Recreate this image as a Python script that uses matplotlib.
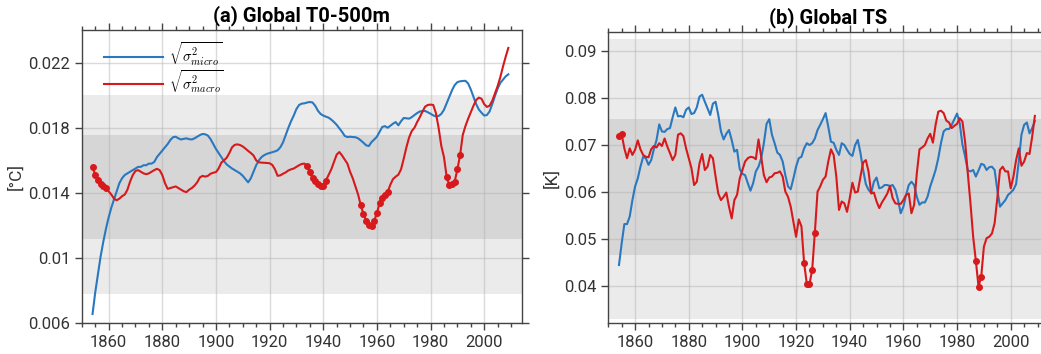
import matplotlib
matplotlib.use("Agg")
import matplotlib.pyplot as plt
import numpy as np
from matplotlib.ticker import MultipleLocator, FuncFormatter

plt.rcParams['font.family'] = ['Roboto', 'DejaVu Sans']
plt.rcParams['mathtext.fontset'] = 'cm'

#-------------------------------------------------
# data (annual, 1854-2009)
#-------------------------------------------------
years = np.arange(1854, 2010)

# (a) Global T0-500m  [degC]
t500_micro = [0.00657, 0.0079, 0.0090, 0.0101, 0.0110, 0.0118,
              0.0125, 0.0131, 0.0136, 0.0141, 0.0146, 0.0149, 0.0151, 0.0152, 0.0153, 0.0154,
              0.0155, 0.0156, 0.0156, 0.0157, 0.0157, 0.0158, 0.0158, 0.0159, 0.0162, 0.0164,
              0.0166, 0.0168, 0.0170, 0.01725, 0.01742, 0.01745, 0.01735, 0.01728, 0.01732, 0.01735,
              0.01730, 0.01728, 0.01735, 0.01745, 0.01755, 0.01762, 0.01760, 0.01752, 0.01730, 0.01700,
              0.01670, 0.01645, 0.01620, 0.01595, 0.01575, 0.01562, 0.01550, 0.01540, 0.01530, 0.01520,
              0.01505, 0.01485, 0.01465, 0.01490, 0.01530, 0.01570, 0.01600, 0.01620, 0.01632, 0.01640,
              0.01645, 0.01650, 0.01655, 0.01662, 0.01680, 0.01710, 0.01755, 0.01800, 0.01840, 0.01875,
              0.01915, 0.01940, 0.01948, 0.01950, 0.01955, 0.01958, 0.01955, 0.01935, 0.01905, 0.01885,
              0.01875, 0.01868, 0.01862, 0.01850, 0.01835, 0.01818, 0.01797, 0.01775, 0.01750, 0.01743,
              0.01745, 0.01743, 0.01742, 0.01735, 0.01722, 0.01708, 0.01692, 0.01688, 0.01712, 0.01728,
              0.01745, 0.01775, 0.01805, 0.01810, 0.01800, 0.01812, 0.01825, 0.01835, 0.01815, 0.01840,
              0.01860, 0.01858, 0.01856, 0.01865, 0.01878, 0.01890, 0.01900, 0.01902, 0.01903, 0.01895,
              0.01886, 0.01876, 0.01870, 0.01872, 0.01885, 0.01910, 0.01950, 0.01990, 0.02030, 0.02062,
              0.02080, 0.02085, 0.02087, 0.02088, 0.02072, 0.02035, 0.01990, 0.01945, 0.01912, 0.01892,
              0.01875, 0.01878, 0.01900, 0.01945, 0.01995, 0.02040, 0.02075, 0.02095, 0.02115, 0.02128]

t500_macro = [0.0156, 0.0151, 0.0148, 0.01455, 0.0144, 0.0143,
              0.0141, 0.0139, 0.01365, 0.01355, 0.01365, 0.0138, 0.0139, 0.0142, 0.0147, 0.0151,
              0.01535, 0.0154, 0.0153, 0.0152, 0.01515, 0.0152, 0.0153, 0.0154, 0.01548, 0.0154,
              0.0151, 0.0146, 0.01425, 0.0143, 0.01435, 0.0144, 0.0143, 0.0142, 0.0141, 0.01405,
              0.01420, 0.01430, 0.01445, 0.01465, 0.01495, 0.01505, 0.01500, 0.01505, 0.01518, 0.01524,
              0.01528, 0.01550, 0.01586, 0.01600, 0.01616, 0.01645, 0.01680, 0.01695, 0.01698, 0.01694,
              0.01685, 0.01672, 0.01658, 0.01645, 0.01630, 0.01600, 0.01588, 0.01586, 0.01585, 0.01584,
              0.01582, 0.01572, 0.01545, 0.01505, 0.01508, 0.01518, 0.01526, 0.01538, 0.01545, 0.01550,
              0.01560, 0.01570, 0.01578, 0.01580, 0.01565, 0.01528, 0.01491, 0.01476, 0.01456, 0.01442,
              0.01442, 0.01476, 0.01510, 0.01545, 0.01590, 0.01635, 0.01651, 0.01630, 0.01605, 0.01580,
              0.01530, 0.01490, 0.01440, 0.01390, 0.01323, 0.01271, 0.01230, 0.01205, 0.01196, 0.01230,
              0.01275, 0.01340, 0.01372, 0.01390, 0.01405, 0.01450, 0.01485, 0.01500, 0.01512, 0.01545,
              0.01610, 0.01680, 0.01740, 0.01780, 0.01800, 0.01835, 0.01865, 0.01900, 0.01930, 0.01940,
              0.01942, 0.01940, 0.01890, 0.01800, 0.01690, 0.01620, 0.01500, 0.01446, 0.01455, 0.01470,
              0.01544, 0.01630, 0.01755, 0.01810, 0.01855, 0.01895, 0.01935, 0.01970, 0.01985, 0.01978,
              0.01945, 0.01928, 0.01935, 0.01965, 0.02010, 0.02055, 0.02110, 0.02175, 0.02235, 0.02290]

t500_sig_years = list(range(1854, 1860)) + list(range(1934, 1942)) + \
                 list(range(1954, 1965)) + list(range(1986, 1992))
t500_band_outer = (0.00778, 0.0200)
t500_band_inner = (0.01115, 0.01753)

# (b) Global TS  [K]
ts_micro = [0.0444, 0.0490, 0.0531, 0.0531, 0.0547, 0.0582,
            0.0611, 0.0628, 0.0653, 0.0674, 0.0671, 0.0657, 0.0667, 0.0690, 0.0710, 0.0743,
            0.0728, 0.0727, 0.0733, 0.0735, 0.0758, 0.0779, 0.0760, 0.0761, 0.0758, 0.0774,
            0.0779, 0.0765, 0.0767, 0.0779, 0.0802, 0.0806, 0.0791, 0.0777, 0.0763, 0.0787,
            0.0791, 0.0763, 0.0728, 0.0711, 0.0723, 0.0731, 0.0710, 0.0685, 0.0689, 0.0648,
            0.0638, 0.0635, 0.0618, 0.0602, 0.0618, 0.0643, 0.0653, 0.0671, 0.0703, 0.0744,
            0.0754, 0.0721, 0.0703, 0.0683, 0.0678, 0.0664, 0.0635, 0.0611, 0.0605, 0.0628,
            0.0653, 0.0671, 0.0674, 0.0692, 0.0703, 0.0699, 0.0703, 0.0713, 0.0731, 0.0742,
            0.0754, 0.0767, 0.0738, 0.0706, 0.0704, 0.0689, 0.0678, 0.0703, 0.0699, 0.0689,
            0.0680, 0.0676, 0.0699, 0.0710, 0.0682, 0.0646, 0.0616, 0.0604, 0.0597, 0.0621,
            0.0630, 0.0607, 0.0609, 0.0614, 0.0614, 0.0612, 0.0614, 0.0604, 0.0582, 0.0554,
            0.0568, 0.0593, 0.0614, 0.0621, 0.0614, 0.0589, 0.0572, 0.0577, 0.0577, 0.0589,
            0.0611, 0.0628, 0.0646, 0.0671, 0.0703, 0.0728, 0.0733, 0.0733, 0.0742, 0.0754,
            0.0766, 0.0745, 0.0700, 0.0675, 0.0645, 0.0643, 0.0646, 0.0632, 0.0645, 0.0659,
            0.0657, 0.0646, 0.0652, 0.0653, 0.0646, 0.0604, 0.0568, 0.0575, 0.0582, 0.0593,
            0.0598, 0.0604, 0.0616, 0.0664, 0.0721, 0.0742, 0.0747, 0.0724, 0.0735, 0.0750]

ts_macro = [0.0718, 0.0722, 0.0692, 0.0671, 0.0692, 0.0678,
            0.0689, 0.0709, 0.0690, 0.0678, 0.0674, 0.0673, 0.0690, 0.0697, 0.0694, 0.0703,
            0.0697, 0.0713, 0.0696, 0.0682, 0.0667, 0.0678, 0.0721, 0.0724, 0.0718, 0.0692,
            0.0671, 0.0650, 0.0614, 0.0621, 0.0660, 0.0680, 0.0646, 0.0653, 0.0678, 0.0671,
            0.0632, 0.0596, 0.0582, 0.0589, 0.0598, 0.0568, 0.0543, 0.0582, 0.0593, 0.0628,
            0.0646, 0.0664, 0.0671, 0.0674, 0.0673, 0.0669, 0.0711, 0.0674, 0.0635, 0.0620,
            0.0630, 0.0632, 0.0639, 0.0640, 0.0643, 0.0632, 0.0600, 0.0589, 0.0568, 0.0536,
            0.0504, 0.0541, 0.0526, 0.0448, 0.0404, 0.0404, 0.0433, 0.0513, 0.0600, 0.0611,
            0.0625, 0.0632, 0.0664, 0.0690, 0.0678, 0.0632, 0.0561, 0.0579, 0.0575, 0.0557,
            0.0586, 0.0619, 0.0598, 0.0600, 0.0632, 0.0662, 0.0667, 0.0643, 0.0596, 0.0598,
            0.0579, 0.0565, 0.0577, 0.0586, 0.0596, 0.0612, 0.0586, 0.0575, 0.0574, 0.0574,
            0.0582, 0.0593, 0.0596, 0.0554, 0.0572, 0.0639, 0.0690, 0.0694, 0.0699, 0.0713,
            0.0723, 0.0704, 0.0742, 0.0770, 0.0772, 0.0767, 0.0751, 0.0747, 0.0735, 0.0740,
            0.0744, 0.0756, 0.0749, 0.0706, 0.0639, 0.0575, 0.0504, 0.0453, 0.0398, 0.0419,
            0.0483, 0.0501, 0.0504, 0.0511, 0.0533, 0.0586, 0.0646, 0.0653, 0.0643, 0.0643,
            0.0607, 0.0632, 0.0667, 0.0692, 0.0655, 0.0664, 0.0682, 0.0680, 0.0717, 0.0761]

ts_sig_years = [1854, 1855] + list(range(1923, 1928)) + list(range(1987, 1990))
ts_band_outer = (0.0329, 0.0925)
ts_band_inner = (0.0465, 0.0755)

#-------------------------------------------------
# style
#-------------------------------------------------
c_micro = '#2a78bf'
c_macro = '#d7191c'
c_outer = '#ebebeb'
c_inner = '#d6d6d6'
c_axis  = '#444444'

fig = plt.figure(figsize=(10.41, 3.54), dpi=100)
ax1 = fig.add_axes([0.0786, 0.0867, 0.4226, 0.8286])
ax2 = fig.add_axes([0.5843, 0.0867, 0.4227, 0.8237])


def draw_panel(ax, micro, macro, sig_years, band_outer, band_inner):
    micro = np.array(micro)
    macro = np.array(macro)
    ax.axhspan(*band_outer, color=c_outer, lw=0, zorder=0)
    ax.axhspan(*band_inner, color=c_inner, lw=0, zorder=0)
    l1, = ax.plot(years, micro, color=c_micro, lw=1.5, zorder=3)
    l2, = ax.plot(years, macro, color=c_macro, lw=1.5, zorder=4)
    sig = np.isin(years, sig_years)
    ax.plot(years[sig], macro[sig], ls='', marker='o', ms=4, color=c_macro, zorder=5)

    ax.set_xlim(1850, 2014)
    ax.xaxis.set_major_locator(MultipleLocator(20))
    ax.xaxis.set_minor_locator(MultipleLocator(5))
    ax.yaxis.set_major_formatter(FuncFormatter(lambda v, p: '%g' % round(v, 4)))
    ax.set_axisbelow(True)
    ax.grid(which='major', color='#b0b0b0', alpha=0.45, lw=1.0)
    ax.tick_params(which='both', direction='out', color=c_axis, top=True, right=True,
                   labelsize=12, labelcolor='#333333')
    ax.tick_params(which='major', length=5, width=1)
    ax.tick_params(which='minor', length=3, width=1)
    for sp in ax.spines.values():
        sp.set_color(c_axis)
        sp.set_linewidth(1.0)
    return l1, l2


l1, l2 = draw_panel(ax1, t500_micro, t500_macro, t500_sig_years, t500_band_outer, t500_band_inner)
ax1.set_ylim(0.006, 0.024)
ax1.set_yticks([0.006, 0.010, 0.014, 0.018, 0.022])
ax1.set_ylabel('[°C]', fontsize=12.5, color='#333333', labelpad=3)
ax1.set_title('(a) Global T0-500m', fontsize=14.5, fontweight='bold')
ax1.legend([l1, l2], [r'$\sqrt{\sigma^2_{micro}}$', r'$\sqrt{\sigma^2_{macro}}$'],
           loc='upper left', bbox_to_anchor=(0.038, 0.985), borderaxespad=0,
           frameon=False, fontsize=10.5, handlelength=4.0, handletextpad=0.45,
           labelspacing=0.0)

draw_panel(ax2, ts_micro, ts_macro, ts_sig_years, ts_band_outer, ts_band_inner)
ax2.set_ylim(0.032, 0.094)
ax2.set_yticks([0.04, 0.05, 0.06, 0.07, 0.08, 0.09])
ax2.set_ylabel('[K]', fontsize=12.5, color='#333333', labelpad=3)
ax2.set_title('(b) Global TS', fontsize=14.5, fontweight='bold')

fig.savefig('out.png', dpi=100)
